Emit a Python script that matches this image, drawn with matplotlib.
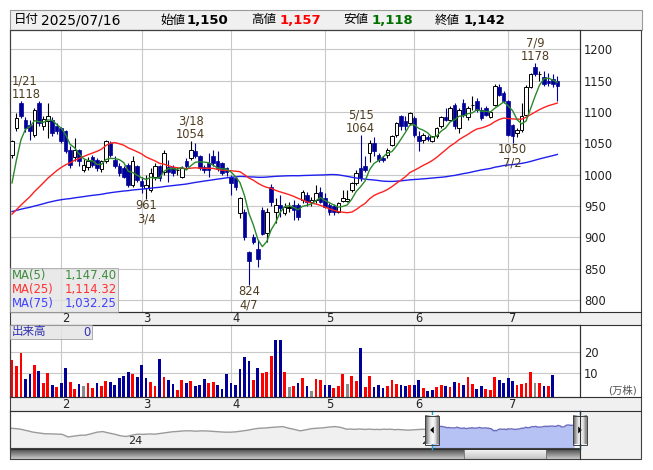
import numpy as np
import pandas as pd
import matplotlib
matplotlib.use("Agg")
import matplotlib.pyplot as plt
from matplotlib.patches import Rectangle, Polygon
from matplotlib.transforms import blended_transform_factory, offset_copy

plt.rcParams['font.family'] = ['DejaVu Sans', 'Noto Sans CJK JP']

# trading days on screen (TSE calendar)
jp_holidays = ["2025-02-11", "2025-02-24", "2025-03-20", "2025-04-29", "2025-05-05", "2025-05-06"]
dates = pd.bdate_range("2025-01-17", "2025-07-16")
dates = dates[~dates.isin(pd.to_datetime(jp_holidays))]

opens = [1031, 1074, 1114, 1087, 1079, 1063, 1114, 1078, 1086, 1087,
         1078, 1074, 1069, 1039, 1028, 1039, 1007, 1012, 1028, 1024,
         1009, 1021, 1051, 1024, 1013, 1010, 1015, 984, 1013, 990,
         978, 975, 997, 1013, 1004, 1012, 1012, 1007, 997, 1021,
         1026, 1037, 1029, 1012, 1018, 1029, 1021, 1018, 1010, 997,
         994, 938, 940, 877, 901, 882, 944, 906, 981, 941,
         951, 938, 946, 951, 951, 960, 967, 957, 960, 973,
         962, 951, 950, 941, 958, 958, 975, 986, 1010, 1013,
         1034, 1051, 1031, 1026, 1031, 1047, 1063, 1093, 1085, 1082,
         1090, 1061, 1055, 1060, 1054, 1061, 1077, 1092, 1088, 1111,
         1075, 1114, 1092, 1112, 1117, 1103, 1106, 1092, 1111, 1140,
         1130, 1117, 1079, 1066, 1071, 1095, 1140, 1172, 1160, 1156,
         1150, 1152, 1150]
highs = [1056, 1098, 1118, 1092, 1087, 1106, 1117, 1094, 1114, 1092,
         1083, 1076, 1072, 1045, 1058, 1041, 1025, 1028, 1032, 1027,
         1024, 1055, 1054, 1030, 1018, 1014, 1018, 1030, 1016, 996,
         1000, 1010, 1018, 1016, 1040, 1023, 1016, 1012, 1014, 1026,
         1054, 1050, 1032, 1016, 1034, 1039, 1037, 1020, 1012, 1000,
         996, 965, 945, 878, 905, 895, 948, 946, 985, 962,
         967, 955, 956, 960, 955, 976, 972, 965, 983, 981,
         970, 954, 953, 957, 975, 975, 988, 1008, 1064, 1030,
         1055, 1060, 1035, 1030, 1042, 1063, 1084, 1096, 1094, 1100,
         1094, 1069, 1066, 1064, 1062, 1076, 1094, 1106, 1110, 1114,
         1106, 1121, 1110, 1125, 1122, 1108, 1110, 1102, 1145, 1145,
         1133, 1119, 1081, 1075, 1115, 1143, 1163, 1178, 1166, 1165,
         1163, 1160, 1157]
lows = [1026, 1070, 1090, 1068, 1055, 1060, 1078, 1072, 1058, 1062,
        1065, 1050, 1035, 1010, 1022, 1013, 1005, 1008, 1012, 1006,
        1005, 1019, 1028, 1010, 998, 994, 980, 980, 988, 970,
        961, 972, 992, 990, 1000, 989, 998, 1000, 994, 1010,
        1023, 1027, 1008, 1002, 997, 1014, 1006, 999, 998, 968,
        975, 930, 895, 824, 889, 853, 903, 893, 950, 922,
        933, 935, 940, 928, 928, 955, 950, 950, 955, 955,
        947, 936, 936, 939, 956, 956, 973, 984, 990, 1005,
        1020, 1030, 1020, 1020, 1026, 1045, 1060, 1072, 1072, 1080,
        1060, 1037, 1050, 1054, 1052, 1059, 1075, 1085, 1086, 1073,
        1066, 1092, 1088, 1103, 1100, 1087, 1094, 1090, 1109, 1125,
        1115, 1061, 1050, 1060, 1068, 1093, 1138, 1158, 1150, 1142,
        1141, 1140, 1118]
closes = [1054, 1090, 1094, 1074, 1069, 1104, 1082, 1089, 1093, 1066,
          1070, 1053, 1037, 1016, 1039, 1021, 1015, 1021, 1015, 1010,
          1021, 1053, 1031, 1013, 1002, 997, 984, 1021, 991, 982,
          983, 1002, 1013, 994, 1034, 1005, 1002, 1007, 1010, 1013,
          1039, 1030, 1010, 1008, 1008, 1018, 1010, 1002, 1005, 986,
          981, 962, 900, 862, 893, 865, 905, 941, 957, 951,
          946, 949, 949, 944, 932, 973, 957, 960, 970, 957,
          949, 940, 941, 954, 962, 961, 986, 1002, 994, 1007,
          1050, 1037, 1024, 1023, 1039, 1061, 1082, 1077, 1078, 1098,
          1063, 1053, 1063, 1057, 1061, 1074, 1092, 1088, 1106, 1077,
          1103, 1095, 1106, 1112, 1103, 1090, 1095, 1100, 1142, 1127,
          1117, 1063, 1061, 1071, 1093, 1140, 1160, 1160, 1161, 1144,
          1146, 1144, 1142]
# volume in 10,000 shares
volumes = [16.2, 13.3, 19.8, 7.0, 9.4, 13.8, 10.9, 5.1, 9.9, 4.1,
           3.2, 5.1, 12.3, 5.6, 2.2, 4.6, 3.6, 5.1, 2.7, 5.1,
           3.6, 6.1, 5.6, 4.1, 7.5, 8.5, 10.4, 9.4, 8.0, 13.8,
           7.5, 5.6, 3.6, 16.7, 8.0, 6.5, 4.6, 1.7, 6.5, 5.1,
           6.1, 3.6, 4.1, 7.0, 5.1, 5.6, 4.1, 2.2, 9.4, 5.1,
           4.1, 12.0, 17.7, 15.7, 6.5, 12.5, 9.9, 10.4, 18.2, 26.0,
           26.0, 10.4, 3.2, 3.6, 5.1, 7.5, 3.6, 1.2, 7.0, 6.5,
           4.1, 4.1, 2.7, 3.6, 9.4, 4.6, 8.5, 6.1, 22.2, 3.2,
           8.5, 3.2, 4.1, 2.7, 3.6, 6.5, 4.6, 4.1, 3.6, 4.1,
           4.1, 6.5, 2.7, 1.2, 1.7, 3.2, 4.1, 3.6, 3.2, 5.6,
           5.1, 4.1, 8.0, 4.6, 2.2, 3.6, 2.2, 1.7, 8.0, 6.5,
           5.1, 7.5, 6.1, 4.1, 4.6, 5.1, 10.4, 5.1, 5.1, 3.6,
           3.6, 9.0, 0.0]
# r = up vs prev close, b = down, g = unchanged
vol_dir = ("rrrbbrbrrb" "rbbrrbgrrb" "rrbbbbbrbb" "brrbrbbrrb" "rbbbrrbbbb"
           "bbbbrbrrrb" "brgrbrbgrr" "bbrrrgrrbr" "rbbbrrrbbr" "bbrbbrrbrb"
           "rbrrbbrrrb" "bbbrrrrgrb" "rbb")

# closes before the window (needed for the moving averages)
pre_closes = [952, 948, 955, 960, 958, 950, 945, 940, 946, 951,
              957, 962, 958, 953, 947, 942, 938, 944, 949, 955,
              950, 946, 941, 936, 932, 938, 944, 940, 935, 930,
              940, 946, 952, 949, 944, 940, 946, 951, 948, 943,
              934, 930, 926, 931, 937, 933, 928, 924, 925, 922,
              915, 910, 906, 902, 905, 908, 912, 909, 913, 918,
              925, 930, 936, 941, 945, 940, 946, 950, 944, 936,
              905, 935, 990, 1050]
# older history for the navigator, one value per 5 trading days
nav_hist = [1000, 980, 940, 870, 800, 760, 720, 715, 700, 690,
            560, 600, 640, 650, 720, 800, 830, 760, 700, 620,
            580, 650, 700, 690, 710, 700, 740, 780, 820, 840,
            866, 870, 850, 866, 860, 840, 820, 800, 800, 820,
            860, 900, 960, 1000, 1010, 1040, 1060, 1083, 1000, 940,
            866, 920, 980, 1000, 1020, 1060, 1083, 1040]

marks = [("2025-01-21", "high"), ("2025-03-04", "low"), ("2025-03-18", "high"),
         ("2025-04-07", "low"), ("2025-05-15", "high"), ("2025-07-02", "low"),
         ("2025-07-09", "high")]

n = len(closes)
idx = np.arange(n)
o, h, l, c = (np.array(a, float) for a in (opens, highs, lows, closes))
allc = pd.Series(pre_closes + closes, dtype=float)
ma5 = allc.rolling(5).mean().to_numpy()[-n:]
ma25 = allc.rolling(25).mean().to_numpy()[-n:]
ma75 = allc.rolling(75).mean().to_numpy()[-n:]
month_idx = [i for i in range(1, n) if dates[i].month != dates[i - 1].month]

NAVY = '#000099'
GREEN, RED, BLUE = '#2a8a2a', '#ff2020', '#1f1fee'
GRID = '#c8c8c8'
STRIP = '#f0f0f0'
X0, X1 = -0.45, 127.07

W, H = 653, 470
fig = plt.figure(figsize=(W / 100, H / 100), dpi=100)


def frac(x0, y0, x1, y1):
    return [x0 / W, 1 - y1 / H, (x1 - x0) / W, (y1 - y0) / H]


bg = fig.add_axes([0, 0, 1, 1])
bg.set_xlim(0, W)
bg.set_ylim(H, 0)
bg.axis('off')
for r in [(10, 10, 642, 30), (10, 312, 641, 325), (10, 397, 641, 411), (580, 411, 641, 459)]:
    bg.add_patch(Rectangle((r[0], r[1]), r[2] - r[0], r[3] - r[1], facecolor=STRIP,
                           edgecolor='none'))

ax_p = fig.add_axes(frac(10, 30, 580, 312))
ax_v = fig.add_axes(frac(10, 325, 580, 397))
ax_n = fig.add_axes(frac(10, 411, 580, 448))
top = fig.add_axes([0, 0, 1, 1])
top.set_xlim(0, W)
top.set_ylim(H, 0)
top.axis('off')
top.set_autoscale_on(False)

for ax in (ax_p, ax_v, ax_n):
    for s in ax.spines.values():
        s.set_color('#303030')
        s.set_linewidth(0.8)

# --- price panel ---
up = c >= o
dn = ~up
ax_p.vlines(idx[up], l[up], h[up], color='black', lw=0.8, zorder=2)
ax_p.vlines(idx[dn], l[dn], h[dn], color=NAVY, lw=0.8, zorder=2)
ax_p.bar(idx[up], (c - o)[up], bottom=o[up], width=0.8, facecolor='white',
         edgecolor='black', lw=0.7, zorder=3)
ax_p.bar(idx[dn], (o - c)[dn], bottom=c[dn], width=0.8, facecolor=NAVY,
         edgecolor=NAVY, lw=0.5, zorder=3)
ax_p.plot(idx, ma75, color=BLUE, lw=1.0, zorder=4)
ax_p.plot(idx, ma25, color=RED, lw=1.0, zorder=4)
ax_p.plot(idx, ma5, color=GREEN, lw=1.0, zorder=4)

ax_p.set_xlim(X0, X1)
ax_p.set_ylim(780.6, 1231)
ax_p.set_yticks(np.arange(800, 1201, 50))
ax_p.yaxis.tick_right()
ax_p.tick_params(axis='y', length=0, pad=3, labelsize=8.3, labelcolor='#222222')
ax_p.set_xticks(month_idx)
ax_p.tick_params(axis='x', length=0, labelbottom=False)
ax_p.grid(True, color=GRID, lw=0.8)
ax_p.set_axisbelow(True)

for d, kind in marks:
    i = int(np.where(dates == pd.Timestamp(d))[0][0])
    dt = dates[i]
    lab = f"{dt.month}/{dt.day}"
    if kind == "high":
        txt, y, va, dy = f"{lab}\n{int(h[i])}", h[i], 'bottom', 0
    else:
        txt, y, va, dy = f"{int(l[i])}\n{lab}", l[i], 'top', 0
    if i < 3:
        x, ha, dx = X0, 'left', 1.2
    else:
        x, ha, dx = i, 'center', 0
    ax_p.annotate(txt, (x, y), xytext=(dx, dy), textcoords='offset points', ha=ha, va=va,
                  fontsize=8.3, color='#4e3c20', linespacing=1.05, zorder=6)

# --- volume panel ---
VFLOOR = -1.9
vcol = {'r': '#ff0000', 'b': NAVY, 'g': '#8c8c8c'}
vol = np.array(volumes)
has = vol > 0
ax_v.bar(idx[has], vol[has] - VFLOOR, bottom=VFLOOR, width=0.62,
         color=[vcol[vol_dir[i]] for i in idx[has]], zorder=2)
ax_v.set_xlim(X0, X1)
ax_v.set_ylim(VFLOOR, 33.4)
ax_v.set_yticks([10, 20])
ax_v.yaxis.tick_right()
ax_v.tick_params(axis='y', length=0, pad=3, labelsize=8.3, labelcolor='#222222')
ax_v.set_xticks(month_idx)
ax_v.tick_params(axis='x', length=0, labelbottom=False)
ax_v.grid(True, color=GRID, lw=0.8)
ax_v.set_axisbelow(True)

# month labels in the two date strips
for yy in (318.5, 404):
    tr = offset_copy(blended_transform_factory(ax_p.transData, bg.transData), fig=fig,
                     x=1, y=0, units='dots')
    for i in month_idx:
        bg.text(i, yy, str(dates[i].month), transform=tr, ha='left', va='center',
                fontsize=8.3, color='#222222')

# --- navigator ---
NX0 = -364
nav_x = np.concatenate([np.arange(NX0, -78, 5), np.arange(-len(pre_closes), n)])
nav_y = np.array(nav_hist + pre_closes + closes, float)
old = nav_x <= 0
sel = nav_x >= -1
ax_n.fill_between(nav_x[old], 0, nav_y[old], color='#f0f0f0', lw=0, zorder=1)
ax_n.plot(nav_x[old], nav_y[old], color='#9a9a9a', lw=1.0, zorder=2)
ax_n.fill_between(nav_x[sel], 0, nav_y[sel], color='#b6c2f4', lw=0, zorder=1)
ax_n.plot(nav_x[sel], nav_y[sel], color='#6b6bbf', lw=1.0, zorder=2)
ax_n.set_xlim(NX0, X1)
ax_n.set_ylim(0, 1870)
ax_n.set_xticks([])
ax_n.set_yticks([])
for lab, xi in [("24", -262), ("25", -10)]:
    ax_n.text(xi, 0.18, lab, transform=blended_transform_factory(ax_n.transData, ax_n.transAxes),
              ha='left', va='center', fontsize=8, color='#222222', zorder=3)


def nav_px(v):
    return 10 + (v - NX0) / (X1 - NX0) * 570


s0, s1 = nav_px(X0), nav_px(X1)

# scrollbar
top.imshow(np.linspace(0.25, 0.78, 12)[:, None], extent=(10, 580, 459, 448.5), cmap='gray',
           vmin=0, vmax=1, aspect='auto', interpolation='bilinear', zorder=3)
top.imshow(np.linspace(0.96, 0.78, 12)[:, None], extent=(464, 546, 459, 449), cmap='gray',
           vmin=0, vmax=1, aspect='auto', interpolation='bilinear', zorder=4)
top.add_patch(Rectangle((464, 449), 82, 10, facecolor='none', edgecolor='#707070', lw=0.6, zorder=5))
top.add_patch(Rectangle((10, 448.5), 570, 10.5, facecolor='none', edgecolor='#303030', lw=0.7, zorder=5))

# selection edges and handles
for sx in (s0, s1):
    top.plot([sx, sx], [411, 448.5], color='#10a8e0', lw=1.0, zorder=5)
grad = np.array([0.45, 0.72, 0.92, 0.97, 0.85, 0.55])[None, :]
for sx, pts in [(s0, [(-1.8, 0), (1.8, -3.5), (1.8, 3.5)]), (s1, [(1.8, 0), (-1.8, -3.5), (-1.8, 3.5)])]:
    top.imshow(grad, extent=(sx - 7, sx + 7, 444.5, 415.5), cmap='gray', vmin=0, vmax=1,
               aspect='auto', interpolation='bilinear', zorder=6)
    top.add_patch(Rectangle((sx - 7, 415.5), 14, 29, facecolor='none', edgecolor='#404040',
                            lw=0.7, zorder=7))
    top.add_patch(Polygon([(sx + px, 430 + py) for px, py in pts], closed=True,
                          facecolor='black', edgecolor='none', zorder=7))

# frame lines
top.add_patch(Rectangle((10, 10), 632, 20, facecolor='none', edgecolor='#9a9a9a', lw=0.8, zorder=8))
top.add_patch(Rectangle((10, 30), 631, 429, facecolor='none', edgecolor='#404040', lw=0.8, zorder=8))
for yy in (312, 325, 397, 411):
    top.plot([10, 641], [yy, yy], color='#303030', lw=0.8, zorder=8)
top.plot([580, 580], [30, 312], color='#303030', lw=0.8, zorder=8)
top.plot([580, 580], [325, 397], color='#303030', lw=0.8, zorder=8)
top.plot([580, 580], [411, 459], color='#303030', lw=0.8, zorder=8)

# header
hdr = [("日付", 14, 'black', 'normal', 9), (dates[-1].strftime("%Y/%m/%d"), 41, 'black', 'normal', 10),
       ("始値", 160, 'black', 'normal', 9), (f"{int(o[-1]):,}", 187, 'black', 'bold', 9.5),
       ("高値", 251, 'black', 'normal', 9), (f"{int(h[-1]):,}", 280, '#ff0000', 'bold', 9.5),
       ("安値", 343, 'black', 'normal', 9), (f"{int(l[-1]):,}", 372, '#007000', 'bold', 9.5),
       ("終値", 435, 'black', 'normal', 9), (f"{int(c[-1]):,}", 464, 'black', 'bold', 9.5)]
for t, x, col, fw, fs in hdr:
    top.text(x, 20, t, ha='left', va='center', fontsize=fs, color=col, fontweight=fw, zorder=9)

# MA legend box
top.add_patch(Rectangle((10, 268), 108, 44, facecolor='#e4e4e4', alpha=0.8, edgecolor='#a0a0a0',
                        lw=0.7, zorder=8))
for (lab, val, col), yy in zip([("MA(5)", ma5[-1], '#3c8c3c'), ("MA(25)", ma25[-1], '#ff3030'),
                                ("MA(75)", ma75[-1], '#4040ff')], (275, 289, 303)):
    top.text(12, yy, lab, ha='left', va='center', fontsize=8.4, color=col, zorder=9)
    top.text(117, yy, f"{val:,.2f}", ha='right', va='center', fontsize=8.4, color=col, zorder=9)

# volume legend box
top.add_patch(Rectangle((10, 325), 82, 14, facecolor='#e4e4e4', alpha=0.85, edgecolor='#a0a0a0',
                        lw=0.7, zorder=8))
top.text(12, 332, "出来高", ha='left', va='center', fontsize=8.3, color='#3030b0', zorder=9)
top.text(90, 332, f"{int(vol[-1])}", ha='right', va='center', fontsize=8.3, color='#3030b0', zorder=9)
top.text(637, 390, "(万株)", ha='right', va='center', fontsize=7.5, color='#555555', zorder=9)

fig.savefig("out.png", dpi=100)
